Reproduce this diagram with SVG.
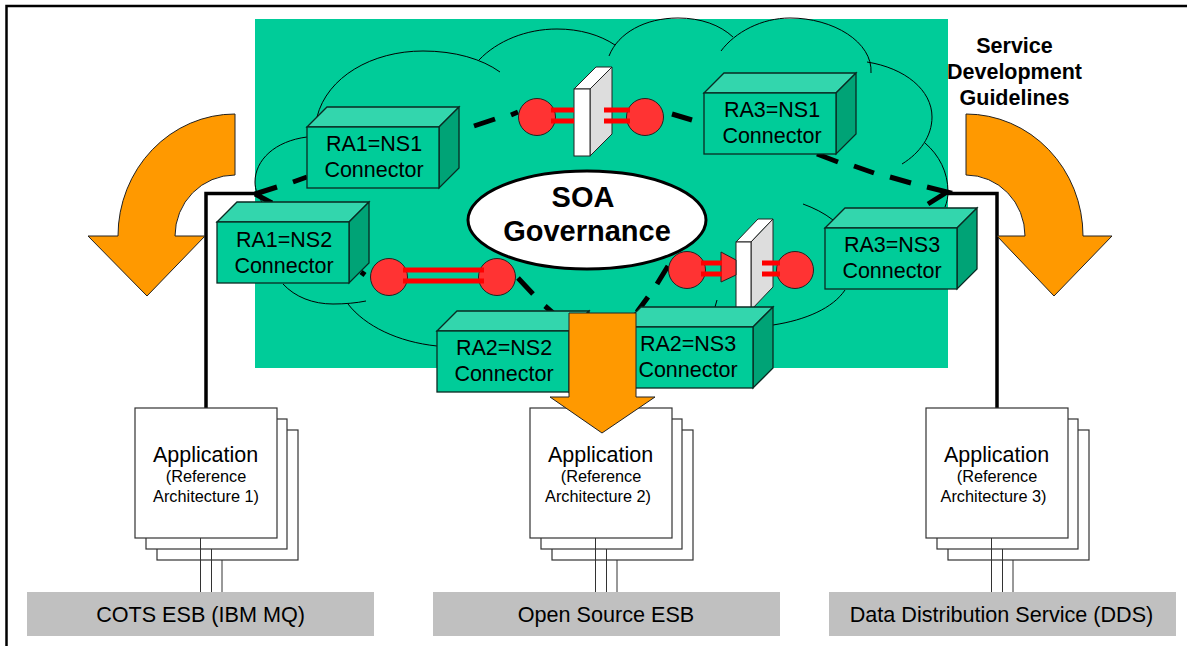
<svg xmlns="http://www.w3.org/2000/svg" width="1187" height="646" viewBox="0 0 1187 646">
<style>
text{font-family:"Liberation Sans",Arial,sans-serif;fill:#000;text-anchor:middle}
.l{font-size:21.500px}
.t{font-size:21.600px}
.s{font-size:16.300px}
.b{font-size:21.500px;font-weight:bold}
.g{font-size:29px;font-weight:bold}
.cloud{fill:none;stroke:#000;stroke-width:1}
.front{fill:#00CC99;stroke:#0A2A22;stroke-width:1.300}
.top{fill:#33D6AD;stroke:#0A2A22;stroke-width:1.300}
.side{fill:#00A376;stroke:#0A2A22;stroke-width:1.300}
.dash{fill:none;stroke:#000;stroke-width:5}
.solid{fill:none;stroke:#000;stroke-width:3.500}
.ball{fill:#FF3333;stroke:#222;stroke-width:1}
.bar{fill:none;stroke:#FF0000;stroke-width:5}
.page{fill:#fff;stroke:#333;stroke-width:1.200}
.link{fill:none;stroke:#333;stroke-width:1}
.base{fill:#C0C0C0}
.orange{fill:#FF9900;stroke:#222;stroke-width:1}
.wall{fill:#fff;stroke:#222;stroke-width:1}
.wallside{fill:#DDDDDD;stroke:#222;stroke-width:1}
</style>
<defs>
<g id="box">
<path class="top" d="M0 0L20 -20H152L132 0Z"/>
<path class="side" d="M132 0L152 -20V41L132 61Z"/>
<rect class="front" x="0" y="0" width="132" height="61"/>
</g>
<g id="stack">
<rect class="page" x="22" y="22" width="141" height="130"/>
<rect class="page" x="11" y="11" width="141" height="130"/>
<rect class="page" x="0" y="0" width="142" height="130"/>
</g>
</defs>
<path id="frame" d="M1187 6H6.500V646" fill="none" stroke="#000" stroke-width="2.500"/>
<rect id="field" x="255" y="19" width="693" height="349" fill="#00CC99"/>
<g id="cloud">
<path class="cloud" d="M317 117C327 77 372 51 423 51C455 51 482 59 500 72"/>
<path class="cloud" d="M479 60C497 41 526 29 557 29C580 29 600 35 615 45"/>
<path class="cloud" d="M609 56C618 33 645 18 678 18C701 18 720 25 733 37"/>
<path class="cloud" d="M721 51C735 32 762 18 790 18C833 18 873 42 871 73"/>
<path class="cloud" d="M867 62C905 68 932 90 932 117C932 136 920 153 902 164"/>
<path class="cloud" d="M925 143C939 155 948 172 948 192C948 197 947 202 945 207"/>
<path class="cloud" d="M307 137C275 141 255 160 255 182C255 190 258 196 262 202"/>
<path class="cloud" d="M283 284C295 297 313 304 333 304C345 304 356 303 366 301"/>
<path class="cloud" d="M348 304C365 326 398 342 437 346"/>
<path class="cloud" d="M845 290C833 308 806 320 773 325"/>
<path class="cloud" d="M803 204C814 208 824 213 833 220"/>
<path class="cloud" d="M717 300L715 307"/>
</g>
<g id="connectors">
<path class="solid" d="M255 193.500H206V408"/>
<path class="solid" d="M947 193.500H997V408"/>
<path class="dash" d="M307 177L293 182M277 187L255 194M272 203L255 194"/>
<path class="dash" d="M474 126L495 119M511 115L518 112"/>
<path class="dash" d="M672 114L692 120"/>
<path class="dash" d="M817 154L838 162M854 166L874 173M890 177L911 183M927 187L947 192L928 204"/>
<path class="dash" d="M361 272L365 275"/>
<path class="dash" d="M518 278L533 294M545 306L553 313"/>
<path class="dash" d="M668 266L657 284M648 297L637 312"/>
</g>
<g id="firewall-1">
<path class="wall" d="M574 89L596 67H612L590 89Z"/>
<path class="wallside" d="M590 89L612 67V134L590 156Z"/>
<rect class="wall" x="574" y="89" width="16" height="67"/>
</g>
<g id="firewall-2">
<path class="wall" d="M736 242L758 219H773L751 242Z"/>
<path class="wallside" d="M751 242L773 219V287L751 310Z"/>
<rect class="wall" x="736" y="242" width="15" height="80"/>
</g>
<g id="link-top">
<circle class="ball" cx="537" cy="117" r="18.500"/>
<circle class="ball" cx="645" cy="117" r="18.500"/>
<path class="bar" d="M551 110H574M551 121H574M604 110H630M604 121H630"/>
</g>
<g id="link-left">
<circle class="ball" cx="389" cy="277" r="18.500"/>
<circle class="ball" cx="497" cy="277" r="18.500"/>
<path class="bar" d="M403 270H484M403 281H484"/>
</g>
<g id="link-right">
<circle class="ball" cx="687" cy="270" r="18.500"/>
<circle class="ball" cx="795" cy="270" r="18.500"/>
<path class="ball" d="M721 252L736 260V275L721 282Z"/>
<path class="bar" d="M701 263H722M701 274H722M762 263H780M762 274H780"/>
</g>
<g id="soa-governance">
<ellipse cx="587" cy="220" rx="119" ry="49" fill="#fff" stroke="#000" stroke-width="3"/>
<text class="g" x="583" y="207">SOA</text>
<text class="g" x="587" y="241">Governance</text>
</g>
<g id="ra1-ns1"><use href="#box" x="307" y="127"/><text class="l" x="374" y="151">RA1=NS1</text><text class="l" x="374" y="177">Connector</text></g>
<g id="ra3-ns1"><use href="#box" x="704" y="93"/><text class="l" x="772" y="117">RA3=NS1</text><text class="l" x="772" y="143">Connector</text></g>
<g id="ra1-ns2"><use href="#box" x="217" y="222"/><text class="l" x="284" y="247">RA1=NS2</text><text class="l" x="284" y="273">Connector</text></g>
<g id="ra3-ns3"><use href="#box" x="825" y="228"/><text class="l" x="892" y="252">RA3=NS3</text><text class="l" x="892" y="278">Connector</text></g>
<g id="ra2-ns2"><use href="#box" x="437" y="331"/><text class="l" x="504" y="355">RA2=NS2</text><text class="l" x="504" y="381">Connector</text></g>
<g id="ra2-ns3"><use href="#box" x="621" y="327"/><text class="l" x="688" y="351">RA2=NS3</text><text class="l" x="688" y="377">Connector</text></g>
<g id="app-1"><use href="#stack" x="135" y="408"/><text class="l" x="205.500" y="462">Application</text><text class="s" x="206" y="482">(Reference</text><text class="s" x="206" y="502">Architecture 1)</text></g>
<g id="app-2"><use href="#stack" x="530" y="408"/><text class="l" x="600.500" y="462">Application</text><text class="s" x="601" y="482">(Reference</text><text class="s" x="598" y="502">Architecture 2)</text></g>
<g id="app-3"><use href="#stack" x="926" y="408"/><text class="l" x="996.500" y="462">Application</text><text class="s" x="997" y="482">(Reference</text><text class="s" x="993.500" y="502">Architecture 3)</text></g>
<g id="app-links">
<path class="link" d="M200.500 538V592M211.500 549V592M222 560V592"/>
<path class="link" d="M595.500 538V592M606.500 549V592M617 560V592"/>
<path class="link" d="M991.500 538V592M1002.500 549V592M1013 560V592"/>
</g>
<g id="bus-1"><rect class="base" x="27" y="592" width="347" height="44"/><text class="t" x="200.500" y="622">COTS ESB (IBM MQ)</text></g>
<g id="bus-2"><rect class="base" x="433" y="592" width="347" height="44"/><text class="t" x="606" y="622">Open Source ESB</text></g>
<g id="bus-3"><rect class="base" x="829" y="592" width="347" height="44"/><text class="t" x="1001.500" y="622">Data Distribution Service (DDS)</text></g>
<g id="guidelines"><text class="b" x="1014.500" y="53">Service</text><text class="b" x="1014.500" y="79">Development</text><text class="b" x="1014.500" y="105">Guidelines</text></g>
<path id="arrow-left" class="orange" d="M235 114V175A60 61 0 0 0 175 236H205L147 296L88 236H118A117 122 0 0 1 235 114Z"/>
<path id="arrow-right" class="orange" d="M966 114V175A59 61 0 0 1 1025 236H997L1054 296L1112 236H1083A117 122 0 0 0 966 114Z"/>
<path id="arrow-down" class="orange" d="M569 313H636V397H655L602 433L550 397H569Z"/>
</svg>
